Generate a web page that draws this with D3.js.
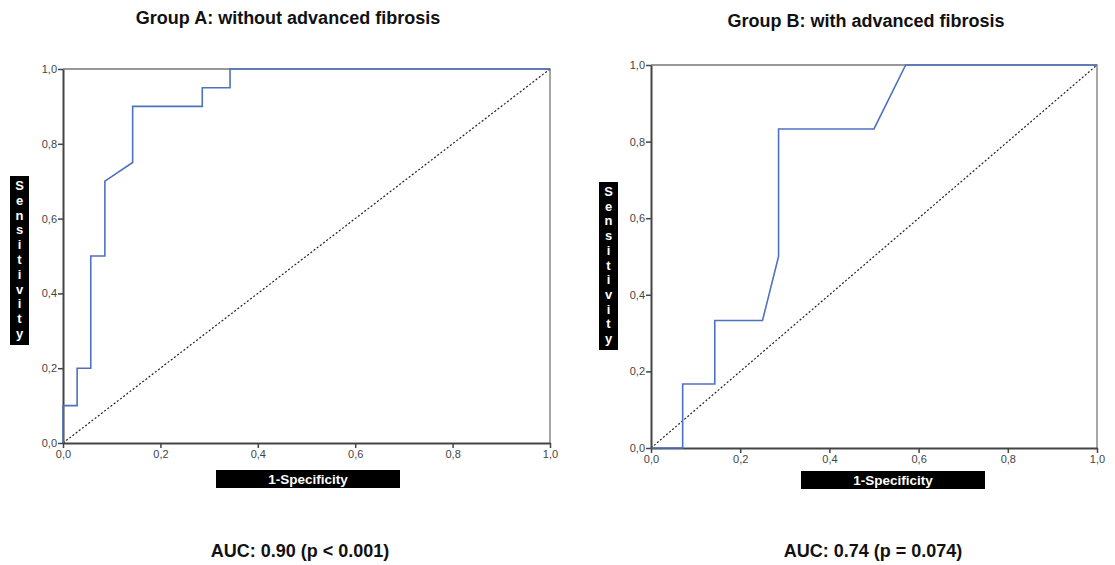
<!DOCTYPE html>
<html>
<head>
<meta charset="utf-8">
<script src="https://cdn.jsdelivr.net/npm/d3@7"></script>
<style>
   body { margin: 0; background: #fff; }
   svg { display: block; }
</style>
</head>
<body>
<div id="chart"></div>
<script>
// ROC data (1-specificity, sensitivity)
const groupAFpr = [0, 0, 0.029, 0.029, 0.057, 0.057, 0.086, 0.086, 0.143, 0.143, 0.286, 0.286, 0.343, 0.343, 1];
const groupATpr = [0, 0.1, 0.1, 0.2, 0.2, 0.5, 0.5, 0.7, 0.75, 0.9, 0.9, 0.95, 0.95, 1, 1];

const groupBFpr = [0, 0.071, 0.071, 0.143, 0.143, 0.25, 0.286, 0.286, 0.5, 0.571, 1];
const groupBTpr = [0, 0, 0.167, 0.167, 0.333, 0.333, 0.5, 0.833, 0.833, 1, 1];

const tickValues = [0, 0.2, 0.4, 0.6, 0.8, 1.0];
const titles = ["Group A: without advanced fibrosis", "Group B: with advanced fibrosis"];
const aucLabels = ["AUC: 0.90 (p < 0.001)", "AUC: 0.74 (p = 0.074)"];
const xLabel = "1-Specificity";
const yLabel = "Sensitivity";

const width = 1115, height = 565;
const svg = d3.select("#chart").append("svg")
   .attr("width", width)
   .attr("height", height);

const font = "Liberation Sans, Arial, Helvetica, sans-serif";
const fmt = (d) => d3.format(".1f")(d).replace(".", ",");

// Panel layouts
const panels = [
   {
      fpr: groupAFpr, tpr: groupATpr, title: titles[0], auc: aucLabels[0],
      x0: 63, x1: 550, y0: 443, y1: 69,
      titleX: 288, titleY: 24,
      yBox: { x: 10, y: 176, w: 19, h: 169 },
      xBox: { x: 216, y: 470, w: 184, h: 18 },
      aucX: 300, aucY: 557
   },
   {
      fpr: groupBFpr, tpr: groupBTpr, title: titles[1], auc: aucLabels[1],
      x0: 651, x1: 1097, y0: 448, y1: 65,
      titleX: 866, titleY: 27,
      yBox: { x: 599, y: 182, w: 19, h: 168 },
      xBox: { x: 801, y: 471, w: 184, h: 18 },
      aucX: 873, aucY: 557
   }
];

panels.forEach((p) => drawPanel(p));

function drawPanel(p) {
   const x = d3.scaleLinear().domain([0, 1]).range([p.x0, p.x1]);
   const y = d3.scaleLinear().domain([0, 1]).range([p.y0, p.y1]);
   const g = svg.append("g");

   // Frame top and right
   g.append("path")
      .attr("d", `M${x(0)},${y(1)}H${x(1)}V${y(0)}`)
      .attr("fill", "none")
      .attr("stroke", "#777")
      .attr("stroke-width", 1.3);

   // Axes
   const xAxis = g.append("g")
      .attr("transform", `translate(0,${y(0)})`)
      .call(d3.axisBottom(x).tickValues(tickValues).tickFormat(fmt).tickSize(5).tickSizeOuter(0));
   const yAxis = g.append("g")
      .attr("transform", `translate(${x(0)},0)`)
      .call(d3.axisLeft(y).tickValues(tickValues).tickFormat(fmt).tickSize(5).tickSizeOuter(0));

   [xAxis, yAxis].forEach((a) => {
      a.select(".domain").attr("stroke", "#444").attr("stroke-width", 2);
      a.selectAll(".tick line").attr("stroke", "#444").attr("stroke-width", 1.5);
      a.selectAll(".tick text")
         .attr("fill", "#444")
         .style("font-family", font)
         .style("font-size", "11px");
   });
   xAxis.selectAll(".tick text").attr("dy", "0.9em").attr("y", 5);
   yAxis.selectAll(".tick text").attr("x", -6);

   // Reference diagonal
   g.append("line")
      .attr("x1", x(0)).attr("y1", y(0))
      .attr("x2", x(1)).attr("y2", y(1))
      .attr("stroke", "#222")
      .attr("stroke-width", 1.2)
      .attr("stroke-dasharray", "2,2");

   // ROC curve
   const pts = p.fpr.map((f, i) => [f, p.tpr[i]]);
   g.append("path")
      .datum(pts)
      .attr("fill", "none")
      .attr("stroke", "#5070c0")
      .attr("stroke-width", 1.6)
      .attr("d", d3.line().x((d) => x(d[0])).y((d) => y(d[1])));

   // Title
   g.append("text")
      .attr("x", p.titleX)
      .attr("y", p.titleY)
      .attr("text-anchor", "middle")
      .style("font-family", font)
      .style("font-weight", "bold")
      .style("font-size", "18px")
      .attr("fill", "#111")
      .text(p.title);

   // Y label box, letters stacked
   g.append("rect")
      .attr("x", p.yBox.x).attr("y", p.yBox.y)
      .attr("width", p.yBox.w).attr("height", p.yBox.h)
      .attr("fill", "#000");
   const letters = yLabel.split("");
   const top = p.yBox.y + 14, bottom = p.yBox.y + p.yBox.h - 7;
   const step = (bottom - top) / (letters.length - 1);
   g.append("g")
      .selectAll("text")
      .data(letters)
      .join("text")
      .attr("x", p.yBox.x + p.yBox.w / 2)
      .attr("y", (d, i) => top + i * step)
      .attr("text-anchor", "middle")
      .style("font-family", font)
      .style("font-weight", "bold")
      .style("font-size", "13px")
      .attr("fill", "#fff")
      .text((d) => d);

   // X label box
   g.append("rect")
      .attr("x", p.xBox.x).attr("y", p.xBox.y)
      .attr("width", p.xBox.w).attr("height", p.xBox.h)
      .attr("fill", "#000");
   g.append("text")
      .attr("x", p.xBox.x + p.xBox.w / 2)
      .attr("y", p.xBox.y + 14)
      .attr("text-anchor", "middle")
      .style("font-family", font)
      .style("font-weight", "bold")
      .style("font-size", "13.5px")
      .attr("fill", "#fff")
      .text(xLabel);

   // AUC note
   g.append("text")
      .attr("x", p.aucX)
      .attr("y", p.aucY)
      .attr("text-anchor", "middle")
      .style("font-family", font)
      .style("font-weight", "bold")
      .style("font-size", "18px")
      .attr("fill", "#111")
      .text(p.auc);
}
</script>
</body>
</html>
